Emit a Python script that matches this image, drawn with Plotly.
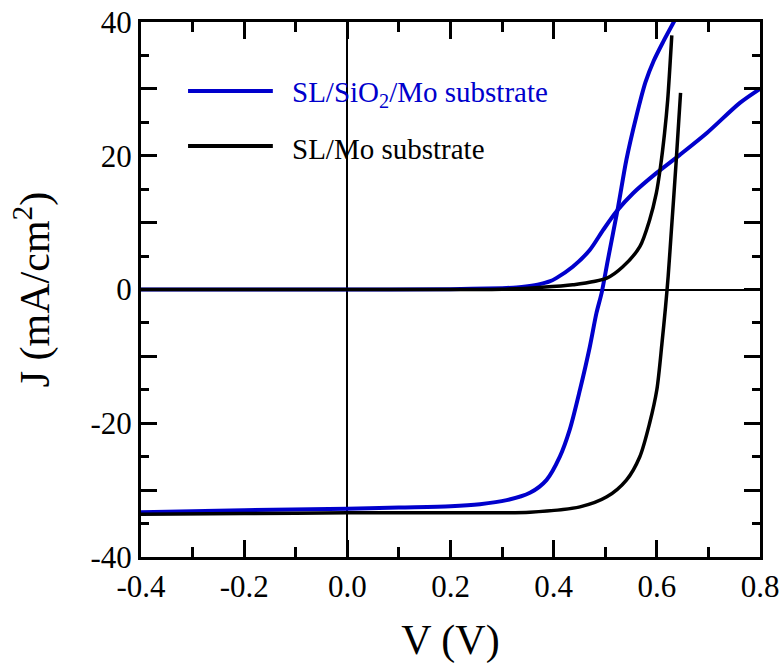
import plotly.graph_objects as go

# ---- data ----
v_sio2_light = [-0.4, -0.2, 0.0, 0.1, 0.2, 0.257, 0.309, 0.354, 0.386, 0.412, 0.431, 0.451, 0.470,
                0.483, 0.493, 0.505, 0.525, 0.541, 0.560, 0.578, 0.594, 0.612, 0.635]
j_sio2_light = [-33.3, -33.0, -32.8, -32.6, -32.4, -32.1, -31.5, -30.4, -28.5, -25.0, -21.0, -15.0, -8.6,
                -3.5, -0.5, 4.4, 12.4, 19.4, 25.8, 31.0, 34.2, 37.0, 40.3]

v_sio2_dark = [-0.4, 0.0, 0.2, 0.3, 0.328, 0.35, 0.373, 0.392, 0.405, 0.437, 0.470, 0.496, 0.522,
               0.554, 0.599, 0.644, 0.697, 0.761, 0.8]
j_sio2_dark = [0.0, 0.0, 0.05, 0.2, 0.3, 0.5, 0.8, 1.2, 1.7, 3.4, 5.9, 8.9, 11.7,
               14.4, 17.4, 20.1, 23.4, 27.9, 30.0]

v_mo_light = [-0.4, -0.2, 0.0, 0.2, 0.257, 0.354, 0.451, 0.503, 0.541, 0.567, 0.586, 0.600, 0.610,
              0.617, 0.622, 0.628, 0.637, 0.646]
j_mo_light = [-33.6, -33.5, -33.4, -33.4, -33.4, -33.3, -32.5, -31.0, -28.5, -25.0, -20.0, -15.0, -8.0,
              -2.5, 2.0, 8.6, 18.6, 29.4]

v_mo_dark = [-0.4, 0.0, 0.2, 0.3, 0.373, 0.437, 0.503, 0.534, 0.567, 0.586, 0.599, 0.607, 0.615,
             0.621, 0.629]
j_mo_dark = [0.0, 0.0, 0.0, 0.05, 0.3, 0.7, 1.7, 3.4, 6.4, 10.4, 14.4, 18.3, 23.4,
             28.3, 38.0]

series_names = ["SL/SiO<sub>2</sub>/Mo substrate", "SL/Mo substrate"]
series_colors = ["#0000CC", "#000000"]

x_ticks = [-0.4, -0.2, 0.0, 0.2, 0.4, 0.6, 0.8]
x_tick_labels = ["-0.4", "-0.2", "0.0", "0.2", "0.4", "0.6", "0.8"]
x_minor = [-0.3, -0.1, 0.1, 0.3, 0.5, 0.7]
y_ticks = [-40, -30, -20, -10, 0, 10, 20, 30, 40]
y_tick_labels = ["-40", "", "-20", "", "0", "", "20", "", "40"]
y_minor = [-35, -25, -15, -5, 5, 15, 25, 35]

FONT = "Liberation Serif"

fig = go.Figure()
for v, j, c, w in [(v_sio2_light, j_sio2_light, series_colors[0], 4),
                   (v_sio2_dark, j_sio2_dark, series_colors[0], 4),
                   (v_mo_light, j_mo_light, series_colors[1], 3.5),
                   (v_mo_dark, j_mo_dark, series_colors[1], 3.5)]:
    fig.add_trace(go.Scatter(x=v, y=j, mode="lines",
                             line=dict(color=c, width=w, shape="spline", smoothing=0.8),
                             showlegend=False, hoverinfo="skip"))

axis_common = dict(showline=True, linewidth=3, linecolor="black", mirror="allticks",
                   ticks="inside", tickwidth=2.5, tickcolor="black", automargin=False,
                   showgrid=False, zeroline=True, zerolinecolor="black", zerolinewidth=1.5,
                   tickfont=dict(family=FONT, size=31, color="black"))

fig.update_xaxes(range=[-0.4, 0.8], tickmode="array", tickvals=x_ticks, ticktext=x_tick_labels,
                 ticklen=17,
                 minor=dict(tickmode="array", tickvals=x_minor, ticks="inside", ticklen=10,
                            tickwidth=2.5, tickcolor="black"),
                 title=dict(text="V (V)", font=dict(family=FONT, size=42, color="black"), standoff=22),
                 **axis_common)
fig.update_yaxes(range=[-40, 40], tickmode="array", tickvals=y_ticks, ticktext=y_tick_labels,
                 ticklen=16,
                 minor=dict(tickmode="array", tickvals=y_minor, ticks="inside", ticklen=8,
                            tickwidth=2.5, tickcolor="black"),
                 title=dict(text="J (mA/cm<sup>2</sup>)", font=dict(family=FONT, size=42, color="black"),
                            standoff=28),
                 **axis_common)

# legend drawn manually
leg_y = [0.871, 0.768]
for name, col, yy in zip(series_names, series_colors, leg_y):
    fig.add_shape(type="line", xref="paper", yref="paper", x0=0.076, x1=0.213, y0=yy, y1=yy,
                  line=dict(color=col, width=4))
    fig.add_annotation(xref="paper", yref="paper", x=0.240, y=yy - 0.006, text=name,
                       showarrow=False, xanchor="left", yanchor="middle",
                       font=dict(family=FONT, size=29, color=col))

fig.update_layout(width=782, height=664, margin=dict(l=141, r=22, t=22, b=107),
                  font=dict(family=FONT, color="black"),
                  plot_bgcolor="white", paper_bgcolor="white", showlegend=False)

fig.write_html("out.html")
